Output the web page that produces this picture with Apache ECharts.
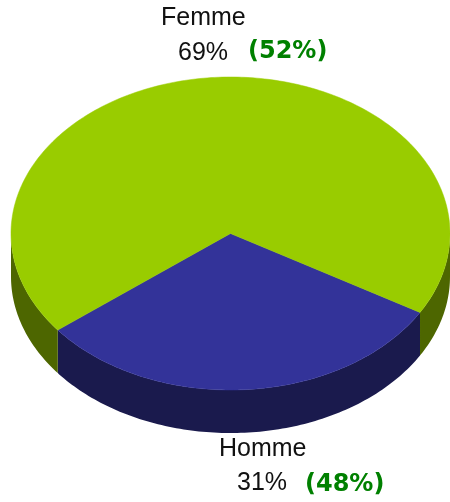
<!DOCTYPE html>
<html>
<head>
<meta charset="utf-8">
<style>
  html, body { margin: 0; padding: 0; background: #fff; }
  #chart { width: 450px; height: 502px; }
</style>
<script src="https://cdn.jsdelivr.net/npm/echarts@6/dist/echarts.min.js"></script>
</head>
<body>
<div id="chart"></div>
<script>
var categories = ["Homme", "Femme"];
var shares = [31, 69];
var compareShares = [48, 52];
var topColors = ["#333399", "#99cc00"];
var wallColors = ["#1a1a4d", "#4d6600"];

var startAngle = 30.3; // degrees, clockwise from the right
var depth = 0.275; // wall height, in y axis units
var total = shares[0] + shares[1];

function sliceRange(index) {
  var before = 0;
  for (var i = 0; i < index; i++) before += shares[i];
  return [
    startAngle + (before / total) * 360,
    startAngle + ((before + shares[index]) / total) * 360,
  ];
}

function rim(from, to, drop) {
  var pts = [];
  for (var t = from; t < to; t += 1) {
    var r = (t * Math.PI) / 180;
    pts.push([Math.cos(r), -Math.sin(r) - drop]);
  }
  var e = (to * Math.PI) / 180;
  pts.push([Math.cos(e), -Math.sin(e) - drop]);
  return pts;
}

function toPixels(api, pts) {
  return pts.map(function (p) {
    return api.coord(p);
  });
}

function renderFace(params, api) {
  var range = sliceRange(params.dataIndex);
  var pts = [[0, 0]].concat(rim(range[0], range[1], 0));
  return {
    type: "polygon",
    shape: { points: toPixels(api, pts) },
    style: { fill: topColors[params.dataIndex], stroke: topColors[params.dataIndex], lineWidth: 0.5 },
  };
}

function renderWall(params, api) {
  var range = sliceRange(params.dataIndex);
  var children = [];
  // only the front half of the rim can be seen (0-180 and 360-540 degrees)
  [[0, 180], [360, 540]].forEach(function (front) {
    var from = Math.max(range[0], front[0]);
    var to = Math.min(range[1], front[1]);
    if (from >= to) return;
    var pts = rim(from, to, 0).concat(rim(from, to, depth).reverse());
    children.push({
      type: "polygon",
      shape: { points: toPixels(api, pts) },
      style: { fill: wallColors[params.dataIndex] },
    });
  });
  return { type: "group", children: children };
}

function label(text, left, top, bold) {
  return {
    type: "text",
    left: left,
    top: top,
    silent: true,
    style: {
      text: text,
      fill: bold ? "#008000" : "#111111",
      font: bold ? "bold 24px 'DejaVu Sans'" : "25px 'Liberation Sans'",
    },
  };
}

var chart = echarts.init(document.getElementById("chart"), null, { renderer: "canvas" });
chart.setOption({
  animation: false,
  backgroundColor: "#ffffff",
  grid: { left: 11, top: 77, width: 442, height: 313 },
  xAxis: { type: "value", min: -1, max: 1, show: false },
  yAxis: { type: "value", min: -1, max: 1, show: false },
  graphic: [
    label(categories[1], 161, 6),
    label(shares[1] + "%", 178, 41),
    label("(" + compareShares[1] + "%)", 248, 40, true),
    label(categories[0], 219, 437),
    label(shares[0] + "%", 237, 471),
    label("(" + compareShares[0] + "%)", 305, 473, true),
  ],
  series: [
    {
      type: "custom",
      name: "wall",
      renderItem: renderWall,
      data: shares,
      z: 1,
      silent: true,
    },
    {
      type: "custom",
      name: "face",
      renderItem: renderFace,
      data: shares,
      z: 2,
      silent: true,
    },
  ],
});
</script>
</body>
</html>
